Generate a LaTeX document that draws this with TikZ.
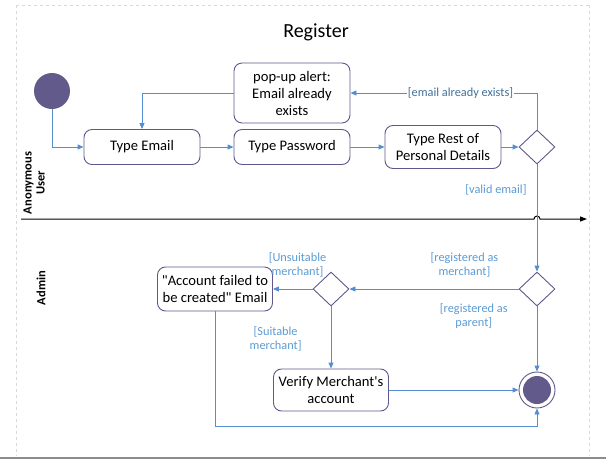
\documentclass[tikz,border=0pt]{standalone}
\usepackage{fontspec}
\setmainfont{Carlito}[Ligatures=TeXOff]
\usetikzlibrary{arrows.meta,shapes.geometric}
\definecolor{flowblue}{RGB}{84,141,208}
\definecolor{guardblue}{RGB}{91,155,213}
\definecolor{guarddark}{RGB}{65,113,156}
\definecolor{nodeline}{RGB}{96,88,140}
\definecolor{dotfill}{RGB}{98,90,138}
\tikzset{
	action/.style={draw=nodeline, line width=.9pt, rounded corners=8pt, minimum width=116pt,
		minimum height=35pt, align=center, inner sep=2pt, font=\fontsize{14.6}{17}\selectfont},
	decision/.style={draw=nodeline, line width=.9pt, diamond, minimum width=36pt,
		minimum height=34pt, inner sep=0pt},
	startdot/.style={circle, fill=dotfill, minimum size=36pt, inner sep=0pt},
	enddot/.style={circle, draw=nodeline, line width=.9pt, minimum size=36pt, inner sep=0pt},
	flow/.style={draw=flowblue, line width=.9pt, -{Triangle[length=6pt,width=5pt]}},
	guard/.style={text=guardblue, align=center, inner sep=1pt, font=\fontsize{12.3}{14}\selectfont},
	lanelabel/.style={rotate=90, align=center, font=\fontsize{12.5}{13}\selectfont\bfseries},
	pageedge/.style={draw=black!15, dashed, line width=.8pt}
}
\begin{document}
\begin{tikzpicture}[x=1pt, y=-1pt]
	\useasboundingbox (0,0) rectangle (606,459);
	% page
	\draw[pageedge] (16,5) -- (589,5);
	\draw[pageedge] (16,5) -- (16,456);
	\draw[pageedge] (589,5) -- (589,456);
	\fill[black!45] (0,456.5) rectangle (606,459);
	\node[font=\fontsize{20}{22}\selectfont] (title) at (316,32) {Register};
	% lanes
	\node[lanelabel] (anon) at (34,183) {Anonymous\\User};
	\node[lanelabel] (admin) at (41,288) {Admin};
	\coordinate (laneL) at (21,219);
	\coordinate (laneR) at (587,219);
	\draw[line width=1pt, -{Triangle[length=7pt,width=5pt]}] (laneL) -- (534,219) arc (180:360:3) -- (laneR);
	% anonymous user
	\node[startdot] (start) at (52,91) {};
	\node[action] (email) at (142,147) {Type Email};
	\node[action] (pass) at (292,147) {Type Password};
	\node[action, minimum height=43pt] (rest) at (443,147) {Type Rest of\\Personal Details};
	\node[action, minimum height=60pt] (alert) at (292,93) {pop-up alert:\\Email already\\exists};
	\node[decision] (check) at (537,147) {};
	% admin
	\node[decision] (role) at (537,289) {};
	\node[decision] (suit) at (331,289) {};
	\node[action, minimum width=115pt, minimum height=44pt] (fail) at (215,289) {"Account failed to\\be created" Email};
	\node[action, minimum width=115pt, minimum height=42pt] (verify) at (331,390) {Verify Merchant's\\account};
	\node[enddot] (finish) at (537,390) {};
	\fill[dotfill] (finish.center) circle (14);
	\coordinate (loop) at (537,426);
	% flows
	\draw[flow] (start) |- (email);
	\draw[flow] (email) -- (pass);
	\draw[flow] (pass) -- (rest);
	\draw[flow] (rest) -- (check);
	\draw[flow] (check.north) |- node[pos=.705, guard, text=guarddark, fill=white] {[email already exists]} (alert.east);
	\draw[flow] (alert.west) -| (email.north);
	\draw[flow] (check.south) -- node[pos=.24, guard, left=9pt] {[valid email]} (role.north);
	\draw[flow] (role.west) -- node[pos=.32, guard, above=10pt] {[registered as\\merchant]} (suit.east);
	\draw[flow] (role.south) -- node[pos=.14, guard, left=28pt] {[registered as\\parent]} (finish.north);
	\draw[flow] (suit.west) -- node[pos=.38, guard, above=10pt] {[Unsuitable\\merchant]} (fail.east);
	\draw[flow] (suit.south) -- node[pos=.52, guard, left=28pt] {[Suitable\\merchant]} (verify.north);
	\draw[flow] (verify) -- (finish);
	\draw[flow] (fail.south) |- (loop) -- (finish.south);
\end{tikzpicture}
\end{document}
